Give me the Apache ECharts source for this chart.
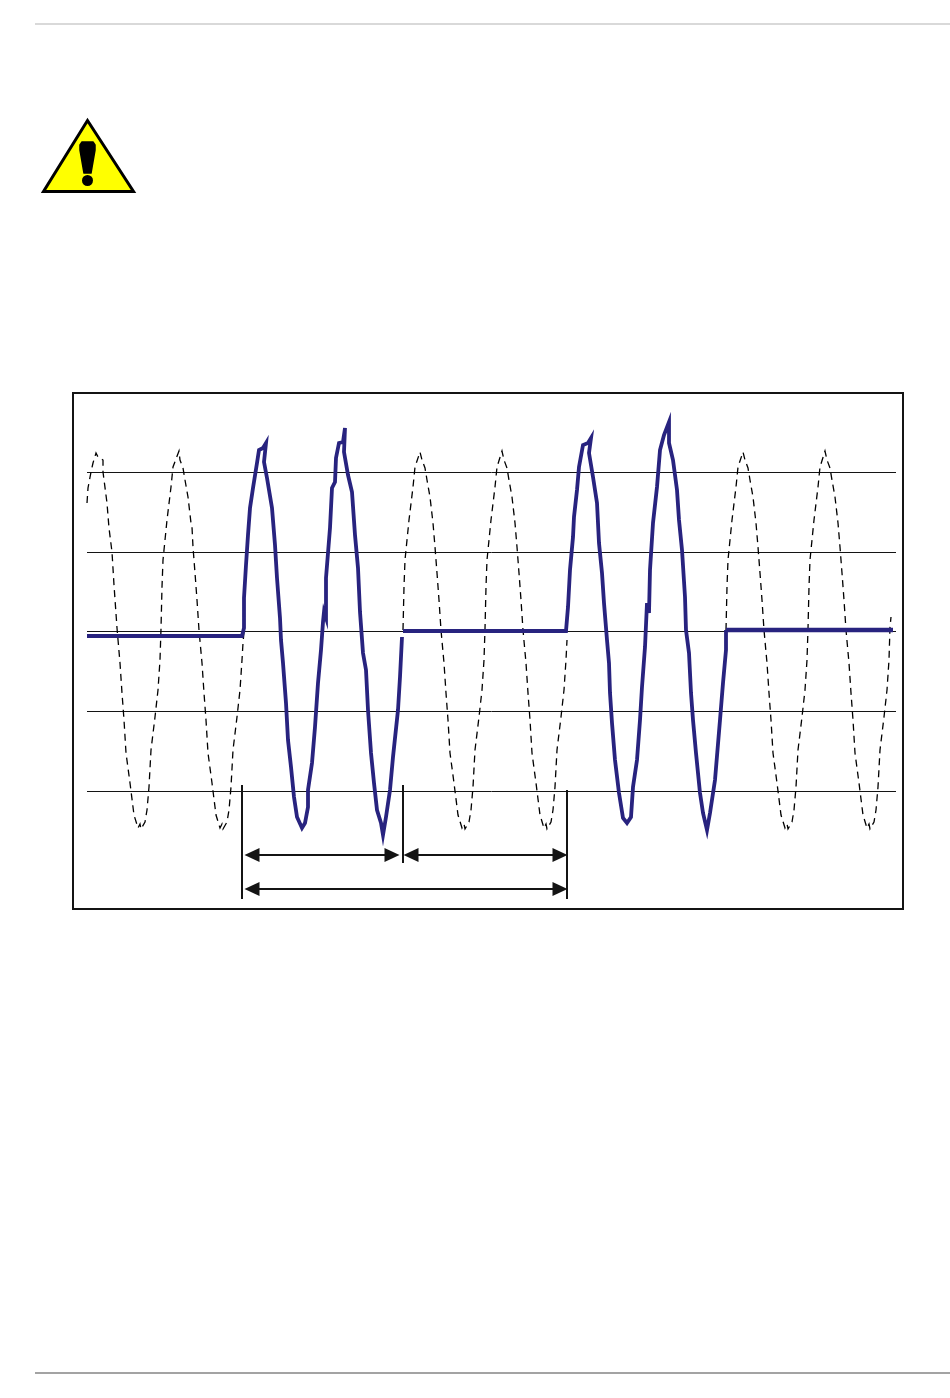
<!DOCTYPE html>
<html>
<head>
<meta charset="utf-8">
<style>html,body{margin:0;padding:0;background:#fff}#c{width:950px;height:1398px}</style>
<script src="https://cdn.jsdelivr.net/npm/echarts@6/dist/echarts.min.js"></script>
</head>
<body>
<div id="c"></div>
<script>
// x: sample number, y: signal level in counts
const refLevels = [159.5, 79.5, 0.5, -79.5, -159.5];
const refSpan = [14, 823];

const mainsA = [[14,129],[15,144],[18,160],[20,169],[23,179],[25,175],[30,172],[30,160],[34,129],[36,104],[39,80],[41,47],[44,4],
[47,-31],[49,-61],[51,-88],[53,-121],[57,-151],[60,-175],[61,-183],[65,-196],[67,-192],[68,-197],[72,-190],[74,-178],[76,-155],[78,-118],[82,-85],[85,-58],[87,-28],[88,3],
[89,45],[90,72],[94,112],[98,145],[100,165],[106,181],[107,172],[110,164],[112,152],[115,135],[118,109],[119,105],[120,85],[122,59],[124,32],[126,2],
[129,-31],[131,-61],[133,-88],[135,-121],[139,-151],[142,-175],[143,-183],[147,-196],[149,-192],[150,-197],[154,-190],[156,-178],[158,-155],[160,-118],[164,-85],[167,-58],[169,-28],[170,-11],[171,0]];
const mainsB = [[330,2],[331,45],[332,72],[336,112],[340,145],[342,165],[347,180],[349,172],[352,164],[354,152],[357,135],[360,109],[362,85],[364,59],[366,32],[368,2],
[371,-31],[373,-61],[375,-88],[377,-121],[381,-151],[384,-175],[385,-183],[389,-196],[391,-192],[392,-197],[396,-190],[398,-178],[400,-155],[402,-118],[406,-85],[409,-58],[411,-28],[412,3],
[413,45],[414,72],[418,112],[422,145],[424,165],[429,181],[431,172],[434,164],[436,152],[439,135],[442,109],[444,85],[446,59],[448,32],[450,2],
[453,-31],[455,-61],[457,-88],[459,-121],[463,-151],[466,-175],[467,-183],[471,-196],[473,-192],[474,-197],[478,-190],[480,-178],[482,-155],[484,-118],[488,-85],[491,-58],[493,-28],[494,-8]];
const mainsC = [[653,2],[654,45],[655,72],[659,112],[663,145],[665,165],[670,180],[672,172],[675,164],[677,152],[680,135],[683,109],[685,85],[687,59],[689,32],[691,2],
[694,-31],[696,-61],[698,-88],[700,-121],[704,-151],[707,-175],[708,-183],[712,-196],[714,-192],[715,-197],[719,-190],[721,-178],[723,-155],[725,-118],[729,-85],[732,-58],[734,-28],[735,3],
[736,45],[737,72],[741,112],[745,145],[747,165],[752,181],[754,172],[757,164],[759,152],[762,135],[765,109],[767,85],[769,59],[771,32],[773,2],
[776,-31],[778,-61],[780,-88],[782,-121],[786,-151],[789,-175],[790,-183],[794,-196],[796,-192],[797,-197],[801,-190],[803,-178],[805,-155],[807,-118],[811,-85],[814,-58],[816,-28],[817,5],[818,15]];

const burstA = [[14,-4],[169,-4],[170,-2],[171,4],[171,34],[173,67],[175,97],[177,124],[180,144],[184,169],[186,182],[190,184],[193,189],[191,170],[194,154],[199,124],[202,87],[204,54],[207,14],[208,-8],[210,-31],[213,-71],[215,-108],[218,-135],[221,-165],[224,-185],[229,-196],[232,-191],[235,-175],[235,-158],[239,-131],[242,-95],[245,-51],[248,-18],[250,10],[251,20],[253,14],[253,54],[257,104],[259,144],[262,150],[263,174],[266,189],[270,190],[272,204],[271,180],[275,157],[279,140],[282,97],[285,64],[287,20],[290,-21],[293,-38],[295,-78],[298,-121],[301,-151],[304,-178],[308,-191],[310,-203],[313,-185],[317,-158],[320,-125],[325,-78],[327,-45],[329,-5]];
const burstB = [[330,1],[493,1],[494,2],[495,25],[497,62],[500,95],[501,115],[504,142],[506,165],[510,187],[515,189],[518,194],[516,179],[520,155],[524,129],[526,89],[529,59],[531,29],[534,-8],[536,-31],[537,-61],[539,-91],[542,-128],[546,-161],[550,-186],[554,-191],[558,-185],[560,-155],[564,-128],[567,-88],[569,-55],[572,-15],[574,29],[576,19],[577,62],[580,109],[584,145],[587,182],[591,197],[596,210],[596,189],[600,172],[604,142],[606,112],[609,82],[612,35],[613,2],[616,-21],[618,-61],[620,-88],[623,-121],[627,-161],[630,-181],[634,-198],[637,-181],[642,-148],[647,-88],[650,-51],[653,-18],[653,2]];
const holdC = [[653,2],[820,2]];

const spans = [[172,326,-223],[331,494,-223],[172,494,-257]];
const brackets = [[169,-153,-267],[330,-153,-231],[494,-158,-267]];

const INK = '#141414', TRACE = '#28237f';

function line(name, data, color, width, dash) {
  return {
    name, type: 'line', data, showSymbol: false, symbol: 'none', smooth: false, clip: false, animation: false,
    silent: true, z: dash ? 3 : 4,
    lineStyle: { color, width, type: dash || 'solid', join: 'miter', miterLimit: 8, cap: 'butt', opacity: 1 }
  };
}

const series = [];
refLevels.forEach(v => series.push(Object.assign(line('level' + v, [[refSpan[0], v], [refSpan[1], v]], INK, 1), { z: 2 })));
[mainsA, mainsB, mainsC].forEach((d, i) => series.push(line('mains' + i, d, '#000', 1.3, [7, 5])));
series.push(line('burstA', burstA, TRACE, 3.8));
series.push(line('burstB', burstB, TRACE, 3.8));
series.push(line('holdC', holdC, TRACE, 4.4));

series.push({
  name: 'annotations', type: 'line', data: [], silent: true, animation: false, z: 5,
  markLine: {
    silent: true, animation: false, precision: 3,
    label: { show: false }, emphasis: { disabled: true },
    symbol: 'none',
    lineStyle: { color: INK, width: 2, type: 'solid' },
    data: brackets.map(b => [{ coord: [b[0], b[1]] }, { coord: [b[0], b[2]] }])
      .concat(spans.map(s => [
        { coord: [s[0] + 7, s[2]], symbol: 'triangle', symbolSize: [14, 15], symbolRotate: 90 },
        { coord: [s[1] - 7, s[2]], symbol: 'triangle', symbolSize: [14, 15], symbolRotate: -90 }
      ]))
  }
});

const chart = echarts.init(document.getElementById('c'), null, { renderer: 'canvas' });
chart.setOption({
  backgroundColor: '#fff',
  animation: false,
  grid: { left: 73, top: 393, width: 830, height: 516, show: true, borderColor: INK, borderWidth: 2, backgroundColor: '#fff' },
  xAxis: { type: 'value', min: 0, max: 830, show: false, splitLine: { show: false } },
  yAxis: { type: 'value', min: -277, max: 239, show: false, splitLine: { show: false } },
  tooltip: { show: false },
  legend: { show: false },
  graphic: [
    { type: 'rect', silent: true, shape: { x: 35, y: 23, width: 915, height: 2 }, style: { fill: '#d9d9d9' } },
    { type: 'rect', silent: true, shape: { x: 35, y: 1372, width: 915, height: 2 }, style: { fill: '#a3a3a3' } },
    { type: 'polygon', silent: true, shape: { points: [[87.5, 120.5], [133.5, 191.5], [43.5, 191.5]] }, style: { fill: '#ffff00', stroke: '#000', lineWidth: 3, lineJoin: 'miter' } },
    { type: 'polygon', silent: true, shape: { points: [[82, 142], [93, 142], [95, 145], [95, 150], [91, 173], [84, 173], [80, 150], [80, 145]] }, style: { fill: '#000', stroke: '#000', lineWidth: 1.5, lineJoin: 'round' } },
    { type: 'circle', silent: true, shape: { cx: 87.5, cy: 180.5, r: 5.5 }, style: { fill: '#000' } }
  ],
  series
});
</script>
</body>
</html>
